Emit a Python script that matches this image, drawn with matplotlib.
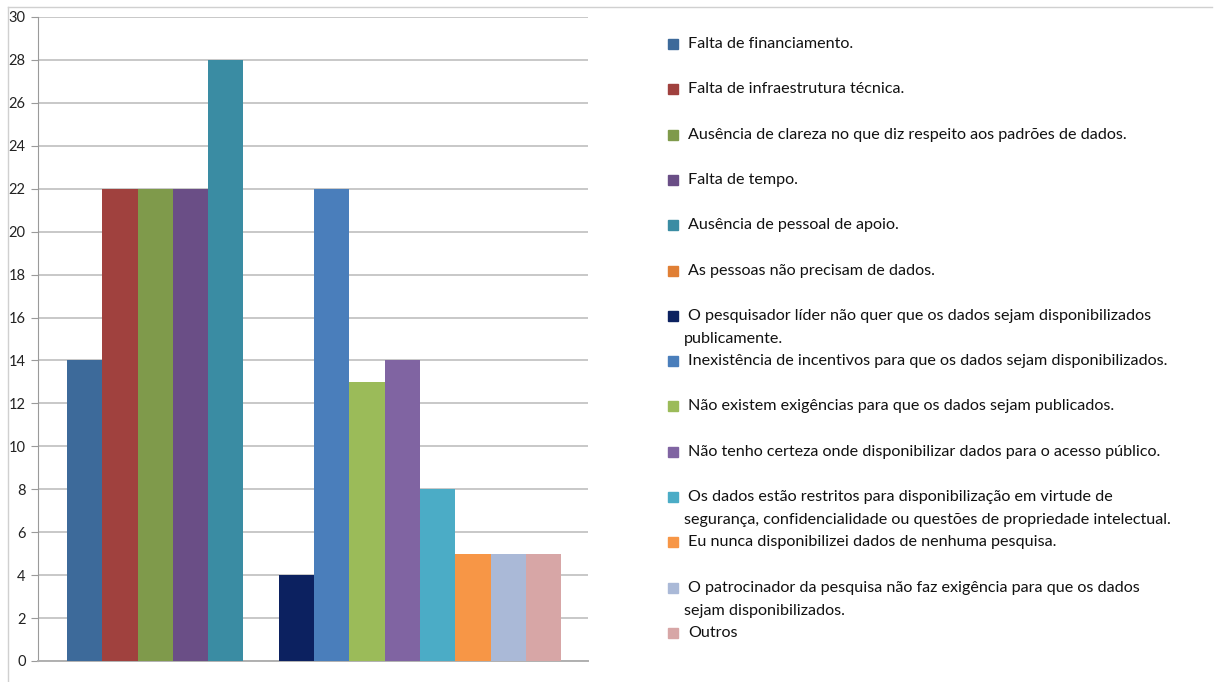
import matplotlib
matplotlib.use("Agg")
import matplotlib.pyplot as plt
import numpy as np
from matplotlib.patches import Rectangle

plt.rcParams['font.family'] = ['Lato', 'DejaVu Sans']

# razoes (ordem da legenda) e quantidade de respostas
labels = [
    "Falta de financiamento.",
    "Falta de infraestrutura técnica.",
    "Ausência de clareza no que diz respeito aos padrões de dados.",
    "Falta de tempo.",
    "Ausência de pessoal de apoio.",
    "As pessoas não precisam de dados.",
    "O pesquisador líder não quer que os dados sejam disponibilizados\npublicamente.",
    "Inexistência de incentivos para que os dados sejam disponibilizados.",
    "Não existem exigências para que os dados sejam publicados.",
    "Não tenho certeza onde disponibilizar dados para o acesso público.",
    "Os dados estão restritos para disponibilização em virtude de\nsegurança, confidencialidade ou questões de propriedade intelectual.",
    "Eu nunca disponibilizei dados de nenhuma pesquisa.",
    "O patrocinador da pesquisa não faz exigência para que os dados\nsejam disponibilizados.",
    "Outros",
]
values = [14, 22, 22, 22, 28, 0, 4, 22, 13, 14, 8, 5, 5, 5]
colors = ["#3d6a9a", "#a0413e", "#7f9a4b", "#6a4e86", "#3a8ca3", "#e07f35",
          "#0c2160", "#4a7ebb", "#9bbb59", "#8064a2", "#4bacc6", "#f79646",
          "#aab9d7", "#d7a6a6"]
yticks = list(range(0, 31, 2))

fig = plt.figure(figsize=(12.16, 6.82), dpi=100)
ax = fig.add_axes([38/1216, 1-661/682, (588-38)/1216, (661-17)/682])

x = np.arange(len(values))
ax.bar(x, values, width=1.0, color=colors, zorder=3)

ax.set_xlim(-0.5-0.82, len(values)-0.5+0.76)
ax.set_ylim(0, 30)
ax.set_yticks(yticks)
ax.set_xticks([])
ax.yaxis.grid(True, color="#c8c8c8", linewidth=1.4, zorder=0)
ax.tick_params(axis='y', length=5, color="#9a9a9a", labelsize=10.5, pad=4, labelcolor="#222222")
for s in ["top", "right"]:
    ax.spines[s].set_visible(False)
ax.spines["left"].set_color("#9a9a9a")
ax.spines["bottom"].set_color("#b0b0b0")
ax.spines["bottom"].set_linewidth(1.4)

# legenda desenhada a mao (espacamento fixo como no Excel)
top = 44
step = 45.3
for i, (lab, col) in enumerate(zip(labels, colors)):
    yc = top + i * step
    fig.patches.append(Rectangle((668/1216, 1-(yc+5)/682), 10/1216, 10/682,
                                 transform=fig.transFigure, color=col, figure=fig))
    lines = lab.split("\n")
    fig.text(688/1216, 1-yc/682, lines[0], fontsize=11.6, va='center', ha='left', color="#111111")
    if len(lines) > 1:
        fig.text(684/1216, 1-(yc+23)/682, lines[1], fontsize=11.6, va='center', ha='left', color="#111111")

# moldura do grafico
fig.add_artist(plt.Line2D([8/1216, 8/1216], [0, 1-7/682], transform=fig.transFigure, color="#d0d0d0", lw=1))
fig.add_artist(plt.Line2D([8/1216, 1212/1216], [1-7/682, 1-7/682], transform=fig.transFigure, color="#d0d0d0", lw=1))

fig.savefig("out.png", dpi=100)
